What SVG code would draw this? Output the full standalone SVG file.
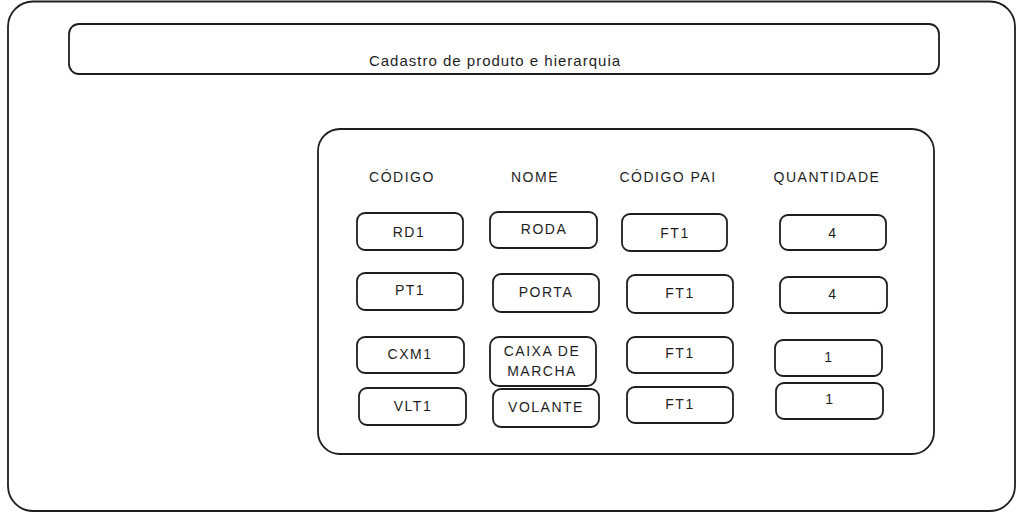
<svg xmlns="http://www.w3.org/2000/svg" width="1030" height="521" viewBox="0 0 1030 521">
<style>
.box{fill:none;stroke:#1e1e1e;stroke-width:1.8;stroke-linejoin:round}
.frame{fill:#fff;stroke:#1e1e1e;stroke-width:1.8}
.t{font-family:"Liberation Sans",Arial,sans-serif;font-size:14px;fill:#1e1e1e;text-anchor:middle;dominant-baseline:central;letter-spacing:1.5px}
.h{font-family:"Liberation Sans",Arial,sans-serif;font-size:15px;fill:#1e1e1e;text-anchor:middle;letter-spacing:1px}
</style>
<rect width="1030" height="521" fill="#fff"/>
<g id="frame"><rect class="frame" x="8" y="1.5" width="1007" height="509.5" rx="25"/></g>
<g id="header">
<rect class="box" x="69" y="24" width="870" height="50" rx="10"/>
<text class="h" x="495" y="66">Cadastro de produto e hierarquia</text>
</g>
<g id="panel"><rect class="box" x="318" y="129" width="616" height="325" rx="22"/></g>
<g id="col-headers">
<text class="t" x="402" y="177">CÓDIGO</text>
<text class="t" x="535" y="177">NOME</text>
<text class="t" x="668" y="177">CÓDIGO PAI</text>
<text class="t" x="827" y="177">QUANTIDADE</text>
</g>
<g id="rd1"><rect class="box" x="357" y="213" width="106" height="37" rx="8"/><text class="t" x="409" y="232">RD1</text></g>
<g id="roda"><rect class="box" x="490" y="212" width="107" height="36" rx="8"/><text class="t" x="544" y="229">RODA</text></g>
<g id="ft1-a"><rect class="box" x="622" y="214" width="105" height="37" rx="8"/><text class="t" x="675" y="233">FT1</text></g>
<g id="q-a"><rect class="box" x="780" y="215" width="106" height="35" rx="8"/><text class="t" x="833" y="233">4</text></g>
<g id="pt1"><rect class="box" x="357" y="273" width="106" height="37" rx="8"/><text class="t" x="410" y="290">PT1</text></g>
<g id="porta"><rect class="box" x="493" y="274" width="106" height="38" rx="8"/><text class="t" x="546" y="292">PORTA</text></g>
<g id="ft1-b"><rect class="box" x="627" y="275" width="106" height="38" rx="8"/><text class="t" x="680" y="293">FT1</text></g>
<g id="q-b"><rect class="box" x="780" y="277" width="107" height="36" rx="8"/><text class="t" x="833" y="294">4</text></g>
<g id="cxm1"><rect class="box" x="357" y="337" width="107" height="36" rx="8"/><text class="t" x="410" y="354">CXM1</text></g>
<g id="caixa"><rect class="box" x="490" y="337" width="106" height="49" rx="9"/><text class="t" x="542" y="351">CAIXA DE</text><text class="t" x="542" y="371">MARCHA</text></g>
<g id="ft1-c"><rect class="box" x="627" y="337" width="106" height="36" rx="8"/><text class="t" x="680" y="353">FT1</text></g>
<g id="q-c"><rect class="box" x="775" y="340" width="107" height="36" rx="8"/><text class="t" x="829" y="357">1</text></g>
<g id="vlt1"><rect class="box" x="359" y="388" width="107" height="37" rx="8"/><text class="t" x="413" y="406">VLT1</text></g>
<g id="volante"><rect class="box" x="493" y="389" width="106" height="38" rx="8"/><text class="t" x="546" y="407">VOLANTE</text></g>
<g id="ft1-d"><rect class="box" x="627" y="387" width="106" height="36" rx="8"/><text class="t" x="680" y="404">FT1</text></g>
<g id="q-d"><rect class="box" x="776" y="383" width="107" height="36" rx="8"/><text class="t" x="830" y="399">1</text></g>
</svg>
